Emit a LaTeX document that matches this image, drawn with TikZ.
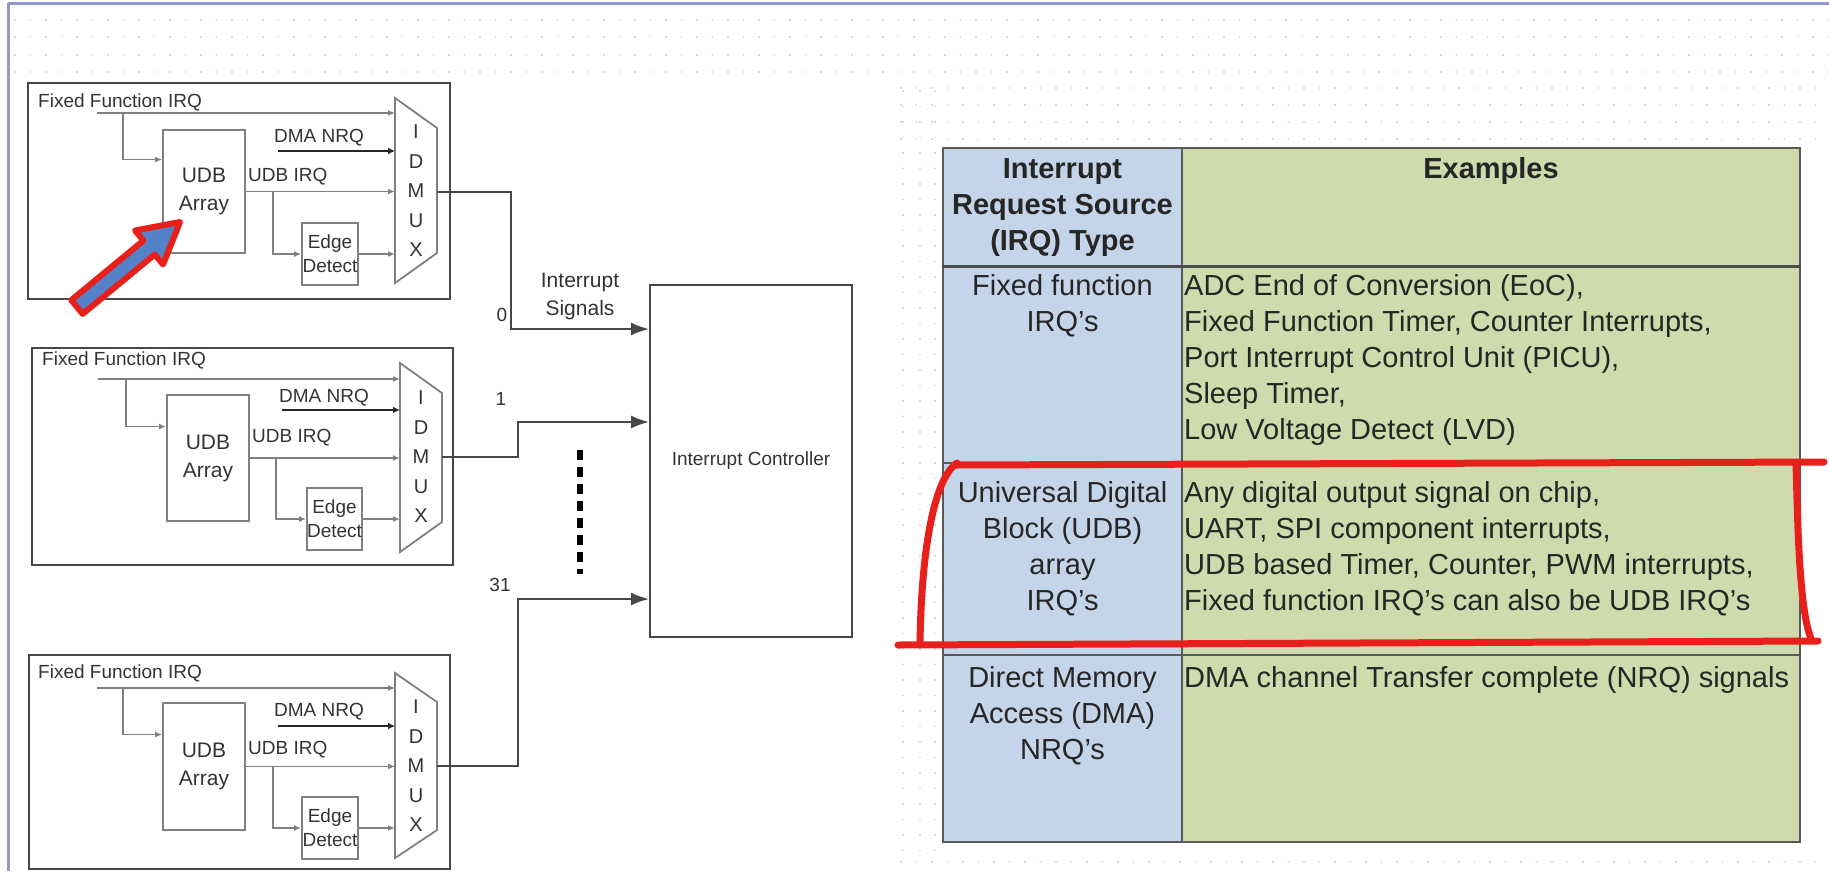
\documentclass[tikz,border=0pt]{standalone}
\usepackage{fontspec}
\setmainfont{Liberation Sans}
\usetikzlibrary{arrows.meta,calc}
\definecolor{slideedge}{RGB}{150,150,205}
\definecolor{srcblue}{RGB}{197,213,233}
\definecolor{exgreen}{RGB}{207,219,172}
\definecolor{markred}{RGB}{232,32,28}
\definecolor{arrblue}{RGB}{84,130,200}

\begin{document}
\begin{tikzpicture}[x=1pt,y=1pt,yscale=-1,
  griddots/.style={draw=black!14, line width=1.5pt, dash pattern=on 1.5pt off 14pt},
  frame/.style={draw=black!72, line width=2.2pt, inner sep=0pt},
  box/.style={draw=black!50, line width=1.8pt, inner sep=0pt},
  lbl/.style={font=\fontsize{19}{24}\selectfont, text=black!80, inner sep=0pt, align=center},
  udbtxt/.style={font=\fontsize{21}{28}\selectfont, text=black!80, align=center},
  muxtxt/.style={font=\fontsize{20}{29.5}\selectfont, text=black!80, inner sep=0pt, align=center},
  sig/.style={draw=black!50, line width=1.6pt, -{Latex[length=7pt,width=6pt]}},
  bus/.style={draw=black!85, line width=2.4pt, -{Latex[length=7pt,width=7pt]}},
  irq/.style={draw=black!72, line width=2pt, -{Latex[length=18pt,width=13pt]}},
  dotbar/.style={draw=black, line width=6pt, dash pattern=on 10pt off 7pt},
  cell/.style={draw=black!65, line width=1.5pt, inner sep=0pt},
  celltxt/.style={font=\fontsize{29}{36}\selectfont, text=black!85, inner sep=0pt},
  hdtxt/.style={font=\fontsize{29}{36}\selectfont\bfseries, text=black!85, inner sep=0pt, align=center, anchor=north},
  redmark/.style={draw=markred, line width=7pt, line cap=round}]
\useasboundingbox (0,0) rectangle (1829,871);

% Slide background dots
\draw[griddots] (14,20) -- (1829,20);
\draw[griddots] (14,37) -- (1829,37);
\draw[griddots] (14,55) -- (1829,55);
\draw[griddots] (14,72) -- (1829,72);
\draw[griddots] (900,88) -- (1829,88);
\draw[griddots] (900,105) -- (1829,105);
\draw[griddots] (900,122) -- (1829,122);
\draw[griddots] (900,139) -- (1829,139);
\draw[griddots] (900,862) -- (1829,862);
\draw[griddots] (903,90) -- (903,860);
\draw[griddots] (920,90) -- (920,860);
\draw[griddots] (935,90) -- (935,860);

% Slide edge
\draw[slideedge, line width=3pt] (8,3) -- (1829,3);
\draw[slideedge, line width=3pt] (8,3) -- (8,871);

%%%%%%%%%%%%%%%% block 0
% Block Frame
\node[frame, fill=white, minimum width=422pt, minimum height=216pt] (blk1) at (239,191) {};
% Text Node
\node[lbl, anchor=west] (ff1) at (38,102) {Fixed Function IRQ};
% Text Node
\node[box, udbtxt, minimum width=82pt, minimum height=123pt] (udb1) at (204,191.5) {UDB\\Array};
% Text Node
\node[box, lbl, minimum width=56pt, minimum height=62pt] (edge1) at (330,254) {Edge\\Detect};
% Text Node
\node[lbl] (dma1) at (319,138) {DMA NRQ};
% Text Node
\node[lbl, anchor=west] (uirq1) at (248,177) {UDB IRQ};
% Mux
\draw[box] (395,98) -- (437,128) -- (437,253) -- (395,283) -- cycle;
\node[muxtxt] (mux1) at (416,191) {I\\D\\M\\U\\X};
\coordinate (m1) at (395,191);
\coordinate (o1) at (437,192);
\coordinate (f1) at (97,113);
\coordinate (fb1) at (123,113);
\coordinate (d1) at (278,151);
\coordinate (ub1) at (273,192);
% Connection
\draw[sig] (f1) -- (f1 -| m1);
% Connection
\draw[sig] (fb1) |- ($(udb1.north west)!0.244!(udb1.south west)$);
% Connection
\draw[bus] (d1) -- (d1 -| m1);
% Connection
\draw[sig] (udb1.east) -- (udb1.east -| m1);
% Connection
\draw[sig] (ub1) |- (edge1.west);
% Connection
\draw[sig] (edge1.east) -- (edge1.east -| m1);

%%%%%%%%%%%%%%%% block 1
% Block Frame
\node[frame, minimum width=421pt, minimum height=217pt] (blk2) at (242.5,456.5) {};
% Text Node
\node[lbl, anchor=west] (ff2) at (42,360) {Fixed Function IRQ};
% Text Node
\node[box, udbtxt, minimum width=82pt, minimum height=126pt] (udb2) at (208,458) {UDB\\Array};
% Text Node
\node[box, lbl, minimum width=55pt, minimum height=62pt] (edge2) at (334.5,519) {Edge\\Detect};
% Text Node
\node[lbl] (dma2) at (324,398) {DMA NRQ};
% Text Node
\node[lbl, anchor=west] (uirq2) at (252,438) {UDB IRQ};
% Mux
\draw[box] (400,363) -- (442,393) -- (442,522) -- (400,552) -- cycle;
\node[muxtxt] (mux2) at (421,457) {I\\D\\M\\U\\X};
\coordinate (m2) at (400,457);
\coordinate (o2) at (442,457);
\coordinate (f2) at (98,379);
\coordinate (fb2) at (126,379);
\coordinate (d2) at (282,410);
\coordinate (ub2) at (276,458);
% Connection
\draw[sig] (f2) -- (f2 -| m2);
% Connection
\draw[sig] (fb2) |- ($(udb2.north west)!0.254!(udb2.south west)$);
% Connection
\draw[bus] (d2) -- (d2 -| m2);
% Connection
\draw[sig] (udb2.east) -- (udb2.east -| m2);
% Connection
\draw[sig] (ub2) |- (edge2.west);
% Connection
\draw[sig] (edge2.east) -- (edge2.east -| m2);

%%%%%%%%%%%%%%%% block 31
% Block Frame
\node[frame, minimum width=421pt, minimum height=214pt] (blk3) at (239.5,762) {};
% Text Node
\node[lbl, anchor=west] (ff3) at (38,673) {Fixed Function IRQ};
% Text Node
\node[box, udbtxt, minimum width=82pt, minimum height=127pt] (udb3) at (204,766.5) {UDB\\Array};
% Text Node
\node[box, lbl, minimum width=56pt, minimum height=62pt] (edge3) at (330,828) {Edge\\Detect};
% Text Node
\node[lbl] (dma3) at (319,712) {DMA NRQ};
% Text Node
\node[lbl, anchor=west] (uirq3) at (248,750) {UDB IRQ};
% Mux
\draw[box] (395,673) -- (437,702) -- (437,830) -- (395,858) -- cycle;
\node[muxtxt] (mux3) at (416,766) {I\\D\\M\\U\\X};
\coordinate (m3) at (395,766);
\coordinate (o3) at (437,766);
\coordinate (f3) at (97,688);
\coordinate (fb3) at (123,688);
\coordinate (d3) at (278,726);
\coordinate (ub3) at (273,766.5);
% Connection
\draw[sig] (f3) -- (f3 -| m3);
% Connection
\draw[sig] (fb3) |- ($(udb3.north west)!0.252!(udb3.south west)$);
% Connection
\draw[bus] (d3) -- (d3 -| m3);
% Connection
\draw[sig] (udb3.east) -- (udb3.east -| m3);
% Connection
\draw[sig] (ub3) |- (edge3.west);
% Connection
\draw[sig] (edge3.east) -- (edge3.east -| m3);

%%%%%%%%%%%%%%%% controller
% Text Node
\node[draw=black!72, line width=2pt, font=\fontsize{19}{24}\selectfont, text=black!80,
  minimum width=202pt, minimum height=352pt] (ic) at (751,461) {Interrupt Controller};
% Text Node
\node[udbtxt, inner sep=0pt] (sigs) at (580,296) {Interrupt\\Signals};
% Text Node
\node[lbl] (n0) at (502,315) {0};
% Text Node
\node[lbl] (n1) at (501,399) {1};
% Text Node
\node[lbl] (n31) at (500,585) {31};
\coordinate (j1) at (511,329);
\coordinate (j2) at (518,422);
\coordinate (j3) at (518,599);
% Connection
\draw[irq] (o1) -| (j1) -- (j1 -| ic.west);
% Connection
\draw[irq] (o2) -| (j2) -- (j2 -| ic.west);
% Connection
\draw[irq] (o3) -| (j3) -- (j3 -| ic.west);
\coordinate (dt) at (580,450);
\coordinate (db) at (580,574);
\draw[dotbar] (dt) -- (db);

%%%%%%%%%%%%%%%% table
\node[cell, fill=srcblue, minimum width=239pt, minimum height=118pt] (hsrc) at (1062.5,207) {};
\node[cell, fill=exgreen, minimum width=618pt, minimum height=118pt] (hex) at (1491,207) {};
\node[cell, fill=srcblue, minimum width=239pt, minimum height=197pt] (src1) at (1062.5,364.5) {};
\node[cell, fill=exgreen, minimum width=618pt, minimum height=197pt] (ex1) at (1491,364.5) {};
\node[cell, fill=srcblue, minimum width=239pt, minimum height=192pt] (src2) at (1062.5,559) {};
\node[cell, fill=exgreen, minimum width=618pt, minimum height=192pt] (ex2) at (1491,559) {};
\node[cell, fill=srcblue, minimum width=239pt, minimum height=187pt] (src3) at (1062.5,748.5) {};
\node[cell, fill=exgreen, minimum width=618pt, minimum height=187pt] (ex3) at (1491,748.5) {};
\draw[draw=black!70, line width=3pt] (hsrc.south west) -- (hex.south east);
% Text Node
\node[hdtxt] (thsrc) at (1062.5,152.8) {\strut Interrupt\\Request Source\\(IRQ) Type};
% Text Node
\node[hdtxt] (thex) at (1491,152.8) {\strut Examples};
% Text Node
\node[celltxt, align=center, anchor=north] (tsrc1) at (1062.5,269.8) {\strut Fixed function\\IRQ's};
% Text Node
\node[celltxt, align=left, anchor=north west] (tex1) at (1184,269.8) {\strut ADC End of Conversion (EoC),\\Fixed Function Timer, Counter Interrupts,\\Port Interrupt Control Unit (PICU),\\Sleep Timer,\\Low Voltage Detect (LVD)};
% Text Node
\node[celltxt, align=center, anchor=north] (tsrc2) at (1062.5,476.8) {\strut Universal Digital\\Block (UDB)\\array\\IRQ's};
% Text Node
\node[celltxt, align=left, anchor=north west] (tex2) at (1184,476.8) {\strut Any digital output signal on chip,\\UART, SPI component interrupts,\\UDB based Timer, Counter, PWM interrupts,\\Fixed function IRQ's can also be UDB IRQ's};
% Text Node
\node[celltxt, align=center, anchor=north] (tsrc3) at (1062.5,661.8) {\strut Direct Memory\\Access (DMA)\\NRQ's};
% Text Node
\node[celltxt, align=left, anchor=north west] (tex3) at (1184,661.8) {\strut DMA channel Transfer complete (NRQ) signals};

%%%%%%%%%%%%%%%% highlights
\draw[redmark] (955,465) -- (1824,462);
\draw[redmark] (957,463) .. controls (932,480) and (921,560) .. (920,645);
\draw[redmark] (898,645) -- (1818,641);
\draw[redmark] (1796,463) .. controls (1798,540) and (1800,615) .. (1812,641);
\filldraw[fill=arrblue, draw=markred, line width=6pt, line join=round]
  (82.7,313.9) -- (154.8,254.4) -- (163.1,264.5) -- (180,222) -- (135.1,230.5)
  -- (143.4,240.6) -- (71.3,300.1) -- cycle;

\end{tikzpicture}
\end{document}
